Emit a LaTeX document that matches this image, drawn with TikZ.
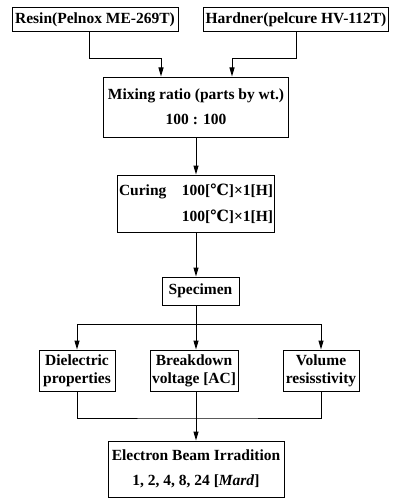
\documentclass[tikz,border=0pt]{standalone}
\usepackage{fontspec}
\setmainfont{Liberation Serif}
\newfontfamily\symfont{DejaVu Serif}
\usetikzlibrary{arrows.meta}

\begin{document}
\begin{tikzpicture}[x=1pt, y=-1pt,
        box/.style={draw, line width=1pt, inner sep=2pt,
            font=\bfseries\fontsize{15.5}{18}\selectfont, align=center},
        flow/.style={line width=1pt, -{Triangle[length=9pt, width=5pt]}},
        link/.style={line width=1pt}]
                \useasboundingbox (0,0) rectangle (395,503);
                % materials
                \node[box, minimum width=166, minimum height=24] (resin) at (95,20) {Resin(Pelnox ME-269T)};
                \node[box, minimum width=178, minimum height=24] (hard) at (296,20) {Hardner(pelcure HV-112T)};
                \node[box, minimum width=185, minimum height=60] (mix) at (196,107) {Mixing ratio (parts by wt.)\\[7pt] 100 : 100};
                \node[box, align=right, minimum width=154, minimum height=57] (cure) at (196,203.5)
                    {Curing\quad 100[{\symfont ℃}]×1[H]\\[8pt] 100[{\symfont ℃}]×1[H]};
                \node[box, minimum width=77, minimum height=28] (spec) at (200.5,291) {Specimen};
                % measurements
                \node[box, minimum width=76, minimum height=41] (diel) at (77,370.5) {Dielectric\\properties};
                \node[box, minimum width=88, minimum height=41] (brk) at (194,370.5) {Breakdown\\voltage [AC]};
                \node[box, minimum width=76, minimum height=41] (vol) at (321,370.5) {Volume\\resisstivity};
                \node[box, minimum width=176, minimum height=56] (elec) at (196,469)
                    {Electron Beam Irradition\\[7pt] 1, 2, 4, 8, 24 [\textit{Mard}]};
                % connectors
                \draw[flow] ([xshift=-6pt]resin.south) -- ++(0,26) -| ([xshift=-35pt]mix.north);
                \draw[flow] (hard.south) -- ++(0,26) -| ([xshift=36pt]mix.north);
                \draw[flow] (mix.south) -- (cure.north);
                \draw[flow] (cure.south) -- (cure.south |- spec.north);
                \coordinate (split) at (196,324);
                \draw[link] (cure.south |- spec.south) -- (split);
                \draw[flow] (split) -| (diel.north);
                \draw[flow] (split) -- (split |- brk.north);
                \draw[flow] (split) -| (vol.north);
                \coordinate (merge) at (196,418);
                \draw[link] (diel.south) |- (merge) -| (vol.south);
                \draw[link] (merge |- brk.south) -- (merge);
                \draw[flow] (merge) -- (elec.north);
\end{tikzpicture}
\end{document}
